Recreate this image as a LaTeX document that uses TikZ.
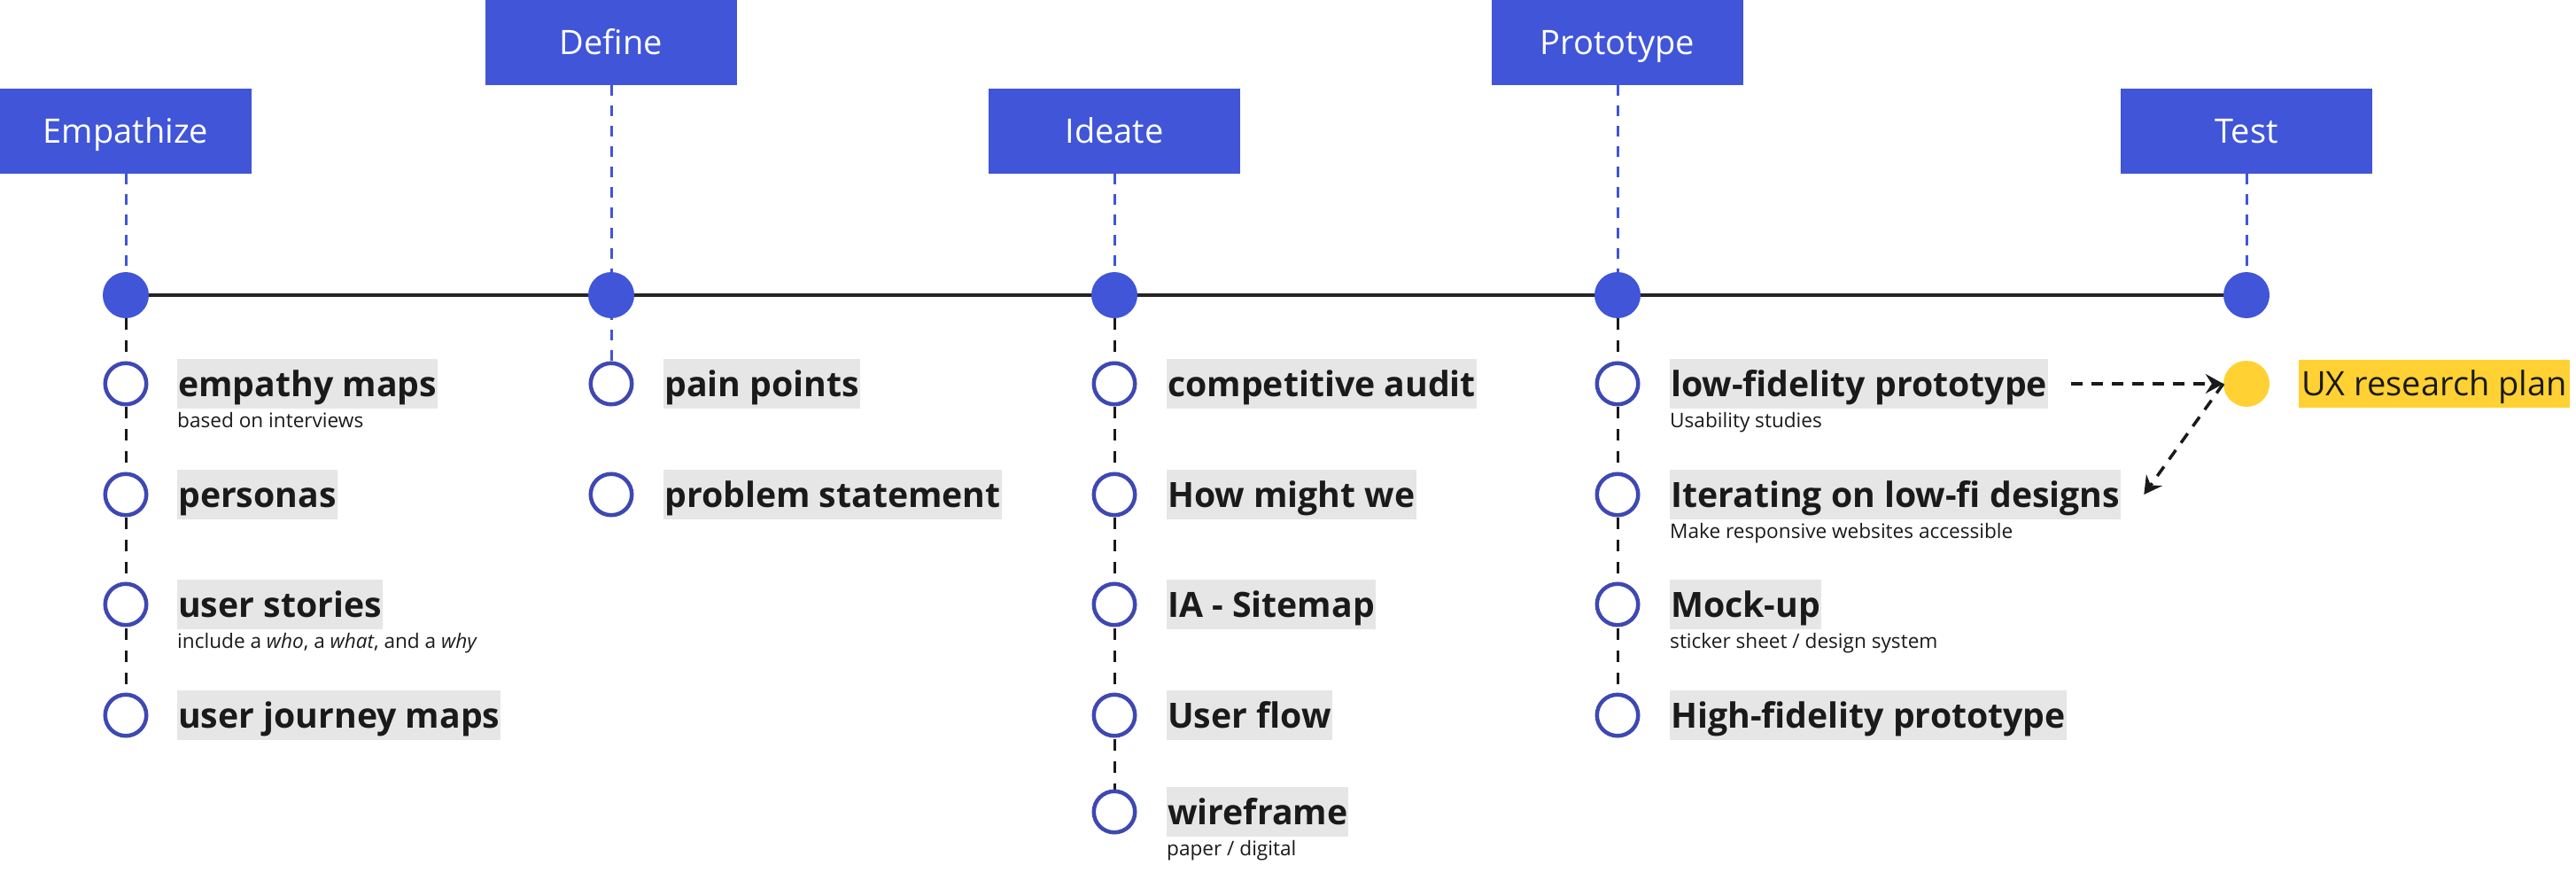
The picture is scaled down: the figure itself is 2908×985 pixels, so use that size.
\documentclass[tikz,border=0pt]{standalone}
\usepackage{fontspec}
\setmainfont{Open Sans}
\usetikzlibrary{arrows.meta,backgrounds}
\definecolor{hblue}{RGB}{64,85,216}
\definecolor{rblue}{RGB}{62,72,178}
\definecolor{lgrey}{RGB}{230,230,230}
\definecolor{ink}{RGB}{26,26,26}
\definecolor{uxyellow}{RGB}{255,209,51}
\begin{document}
\begin{tikzpicture}[x=1pt,y=-1pt,
  hdr/.style={fill=hblue, text=white, minimum width=284pt, minimum height=96pt, inner sep=0pt, text height=27pt, text depth=0pt, font=\fontsize{38}{40}\selectfont},
  phase/.style={circle, fill=hblue, minimum size=52pt, inner sep=0pt},
  ring/.style={circle, draw=rblue, line width=4.5pt, fill=white, minimum size=46.5pt, inner sep=0pt},
  itm/.style={anchor=west, fill=lgrey, text=ink, inner xsep=1pt, inner ysep=0pt, text height=42pt, text depth=14pt, font=\fontsize{39.2}{41}\selectfont\bfseries},
  sub/.style={anchor=base west, inner sep=0pt, text=ink, yshift=-21pt, font=\fontsize{22.6}{24}\selectfont},
  bdash/.style={draw=hblue, line width=3pt, dash pattern=on 12pt off 11pt},
  kdash/.style={draw=ink, line width=3pt, dash pattern=on 13pt off 12pt},
  mainline/.style={draw=ink!95, line width=4.5pt},
  arr/.style={draw=ink, line width=3.5pt, dash pattern=on 13pt off 10pt, -{Stealth[length=20pt,width=22pt,inset=7pt]}}
]
\useasboundingbox (0,0) rectangle (2908,985);

% headers
\node[hdr] (hE) at (142,148) {Empathize};
\node[hdr] (hD) at (690,48) {Define};
\node[hdr] (hI) at (1258,148) {Ideate};
\node[hdr] (hP) at (1826,48) {Prototype};
\node[hdr] (hT) at (2536,148) {Test};

% phase dots
\node[phase] (dE) at (142,333) {};
\node[phase] (dD) at (690,333) {};
\node[phase] (dI) at (1258,333) {};
\node[phase] (dP) at (1826,333) {};
\node[phase] (dT) at (2536,333) {};

% rings
\node[ring] (e1) at (142,433) {};
\node[ring] (e2) at (142,558) {};
\node[ring] (e3) at (142,682) {};
\node[ring] (e4) at (142,807) {};
\node[ring] (d1) at (690,433) {};
\node[ring] (d2) at (690,558) {};
\node[ring] (i1) at (1258,433) {};
\node[ring] (i2) at (1258,558) {};
\node[ring] (i3) at (1258,682) {};
\node[ring] (i4) at (1258,807) {};
\node[ring] (i5) at (1258,916) {};
\node[ring] (p1) at (1826,433) {};
\node[ring] (p2) at (1826,558) {};
\node[ring] (p3) at (1826,682) {};
\node[ring] (p4) at (1826,807) {};
\node[circle, fill=uxyellow, minimum size=52pt, inner sep=0pt] (ux) at (2536,433) {};

% item labels
\node[itm] (te1) at (200,433) {empathy maps};
\node[sub] (se1) at (te1.south west) {based on interviews};
\node[itm] (te2) at (200,558) {personas};
\node[itm] (te3) at (200,682) {user stories};
\node[sub] (se3) at (te3.south west) {include a \textit{who}, a \textit{what}, and a \textit{why}};
\node[itm] (te4) at (200,807) {user journey maps};

\node[itm] (td1) at (749,433) {pain points};
\node[itm] (td2) at (749,558) {problem statement};

\node[itm] (ti1) at (1317,433) {competitive audit};
\node[itm] (ti2) at (1317,558) {How might we};
\node[itm] (ti3) at (1317,682) {IA - Sitemap};
\node[itm] (ti4) at (1317,807) {User flow};
\node[itm] (ti5) at (1317,916) {wireframe};
\node[sub] (si5) at (ti5.south west) {paper / digital};

\node[itm] (tp1) at (1885,433) {low-fidelity prototype};
\node[sub] (sp1) at (tp1.south west) {Usability studies};
\node[itm] (tp2) at (1885,558) {Iterating on low-fi designs};
\node[sub] (sp2) at (tp2.south west) {Make responsive websites accessible};
\node[itm] (tp3) at (1885,682) {Mock-up};
\node[sub] (sp3) at (tp3.south west) {sticker sheet / design system};
\node[itm] (tp4) at (1885,807) {High-fidelity prototype};

\node[anchor=west, fill=uxyellow, text=ink, inner xsep=3pt, inner ysep=0pt, text height=40pt, text depth=14pt, font=\fontsize{38}{40}\selectfont] (uxl) at (2595,433) {UX research plan};

% connectors
\begin{scope}[on background layer]
\draw[mainline] (dE) -- (dT);
\draw[bdash] (hE.south) -- (dE);
\draw[bdash] (hD.south) -- (d1);
\draw[bdash] (hI.south) -- (dI);
\draw[bdash] (hP.south) -- (dP);
\draw[bdash] (hT.south) -- (dT);
\draw[kdash] (dE) -- (e4);
\draw[kdash] (dI) -- (i5);
\draw[kdash] (dP) -- (p4);
\end{scope}

\draw[arr] ([xshift=26pt]tp1.east) -- (ux.west);
\draw[arr] (ux.west) -- ([xshift=26pt]tp2.east);
\end{tikzpicture}
\end{document}
